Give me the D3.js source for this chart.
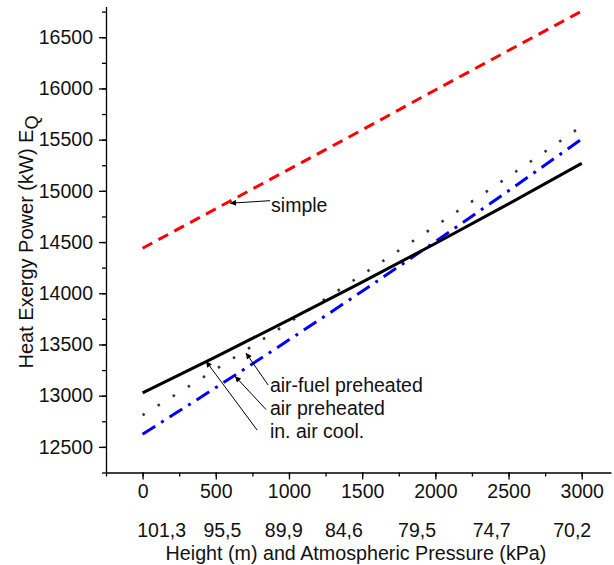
<!DOCTYPE html>
<html lang="en">
<head>
	<meta charset="utf-8">
	<title>Heat exergy power</title>
	<style>
		body { margin: 0; background: #fff; }
		text { font-family: "Liberation Sans", Arial, sans-serif; fill: #111; }
		.axis path, .axis line { stroke: #000; stroke-width: 1.3px; }
		.axis text { font-size: 19.5px; }
	</style>
</head>
<body>
	<div id="chart"></div>

	<script src="https://cdn.jsdelivr.net/npm/d3@7"></script>
	<script>
		var width = 614,
			height = 565;

		// data
		var heights = [0, 500, 1000, 1500, 2000, 2500, 3000];
		var pressures = ["101,3", "95,5", "89,9", "84,6", "79,5", "74,7", "70,2"];
		var simple = [14440, 14825, 15210, 15595, 15985, 16370, 16755];
		var inAirCool = [13028, 13379, 13740, 14109, 14486, 14873, 15269];
		var airFuelPreheated = [12810, 13258, 13715, 14181, 14656, 15139, 15632];
		var airPreheated = [12624, 13079, 13545, 14020, 14505, 15001, 15506];
		var yTicks = [12500, 13000, 13500, 14000, 14500, 15000, 15500, 16000, 16500];

		// where the pressure row sits (not centred on the ticks in the original)
		var pressureLabelAt = [130, 545, 965, 1375, 1875, 2385, 2935];

		var x = d3.scaleLinear().domain([-250, 3200]).range([106, 611]);
		var y = d3.scaleLinear().domain([12250, 16800]).range([472.5, 6.5]);

		var svg = d3.select("#chart")
			.append("svg")
			.attr("width", width)
			.attr("height", height);

		// axes: minor ticks first, then major with labels
		var xMinor = d3.range(-250, 3201, 250);
		var yMinor = d3.range(12250, 16801, 250);

		svg.append("g")
			.attr("class", "axis")
			.attr("transform", "translate(0," + y.range()[0] + ")")
			.call(d3.axisBottom(x).tickValues(xMinor).tickSize(4).tickSizeOuter(0).tickFormat(""));
		svg.append("g")
			.attr("class", "axis")
			.attr("transform", "translate(0," + y.range()[0] + ")")
			.call(d3.axisBottom(x).tickValues(heights).tickSize(7).tickSizeOuter(0).tickFormat(d3.format("d")))
			.call(function (g) { g.select(".domain").remove(); })
			.selectAll("text").attr("y", 12).attr("dy", "0.71em");

		svg.append("g")
			.attr("class", "axis")
			.attr("transform", "translate(" + x.range()[0] + ",0)")
			.call(d3.axisLeft(y).tickValues(yMinor).tickSize(4).tickSizeOuter(0).tickFormat(""));
		svg.append("g")
			.attr("class", "axis")
			.attr("transform", "translate(" + x.range()[0] + ",0)")
			.call(d3.axisLeft(y).tickValues(yTicks).tickSize(7).tickSizeOuter(0).tickFormat(d3.format("d")))
			.call(function (g) { g.select(".domain").remove(); })
			.selectAll("text").attr("x", -13);

		// pressure row
		svg.append("g")
			.selectAll("text")
			.data(pressures)
			.enter().append("text")
			.attr("x", function (d, i) { return x(pressureLabelAt[i]); })
			.attr("y", 537)
			.attr("text-anchor", "middle")
			.style("font-size", "19.5px")
			.text(function (d) { return d; });

		svg.append("text")
			.attr("x", 356)
			.attr("y", 560)
			.attr("text-anchor", "middle")
			.style("font-size", "19.7px")
			.text("Height (m) and Atmospheric Pressure (kPa)");

		var yTitle = svg.append("text")
			.attr("transform", "translate(33,242) rotate(-90)")
			.attr("text-anchor", "middle")
			.style("font-size", "20px");
		yTitle.append("tspan").text("Heat Exergy Power (kW) E");
		yTitle.append("tspan").attr("dy", 5).style("font-size", "18px").text("Q");

		// series
		var series = [
			{ values: simple, color: "#ff0000", dash: "11,7", w: 3 },
			{ values: airFuelPreheated, color: "#333", dash: "2.5,15.3", w: 2.6 },
			{ values: airPreheated, color: "#0000ff", dash: "15,7,3,7", w: 3 },
			{ values: inAirCool, color: "#000", dash: null, w: 3 }
		];

		var line = d3.line()
			.curve(d3.curveMonotoneX)
			.x(function (d, i) { return x(heights[i]); })
			.y(function (d) { return y(d); });

		svg.append("g")
			.selectAll("path")
			.data(series)
			.enter().append("path")
			.attr("d", function (d) { return line(d.values); })
			.attr("fill", "none")
			.attr("stroke", function (d) { return d.color; })
			.attr("stroke-width", function (d) { return d.w; })
			.attr("stroke-dasharray", function (d) { return d.dash; });

		// annotations, tail/head in data units
		var notes = [
			{ text: "simple", tail: [871, 14904], head: [597, 14879], lx: 878, ly: 14795 },
			{ text: "air-fuel preheated", tail: [858, 13103], head: [706, 13418], lx: 870, ly: 13040 },
			{ text: "air preheated", tail: [843, 12865], head: [631, 13191], lx: 870, ly: 12815 },
			{ text: "in. air cool.", tail: [783, 12663], head: [433, 13337], lx: 870, ly: 12590 }
		];

		svg.append("defs").append("marker")
			.attr("id", "arrow")
			.attr("viewBox", "0 0 10 10")
			.attr("refX", 10)
			.attr("refY", 5)
			.attr("markerWidth", 9)
			.attr("markerHeight", 6)
			.attr("markerUnits", "userSpaceOnUse")
			.attr("orient", "auto")
			.append("path")
			.attr("d", "M0,0L10,5L0,10z")
			.attr("fill", "#000");

		var note = svg.append("g")
			.selectAll("g")
			.data(notes)
			.enter().append("g");

		note.append("line")
			.attr("x1", function (d) { return x(d.tail[0]); })
			.attr("y1", function (d) { return y(d.tail[1]); })
			.attr("x2", function (d) { return x(d.head[0]); })
			.attr("y2", function (d) { return y(d.head[1]); })
			.attr("stroke", "#000")
			.attr("stroke-width", 1)
			.attr("marker-end", "url(#arrow)");

		note.append("text")
			.attr("x", function (d) { return x(d.lx); })
			.attr("y", function (d) { return y(d.ly); })
			.style("font-size", "19.5px")
			.text(function (d) { return d.text; });
	</script>
</body>
</html>
